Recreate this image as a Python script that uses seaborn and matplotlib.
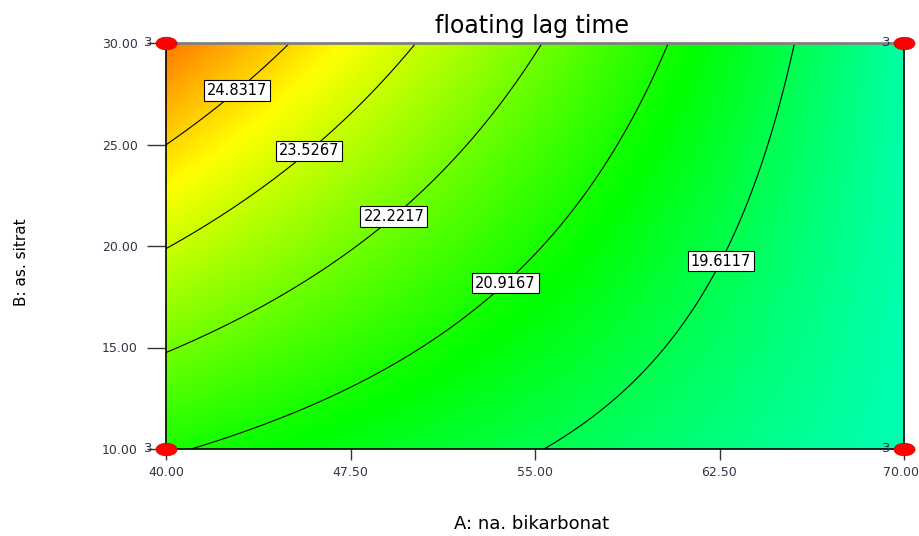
import numpy as np
import pandas as pd
import matplotlib
matplotlib.use("Agg")
import matplotlib.pyplot as plt
import seaborn as sns
from matplotlib.colors import LinearSegmentedColormap
from matplotlib.path import Path
from matplotlib.transforms import Affine2D, ScaledTranslation

# factor ranges
a_range = [40.0, 70.0]
b_range = [10.0, 30.0]
x_ticks = [40.0, 47.5, 55.0, 62.5, 70.0]
y_ticks = [10.0, 15.0, 20.0, 25.0, 30.0]

# 2FI model in coded factors
coef_intercept = 20.97
coef_a = -2.59
coef_b = 1.325
coef_ab = -1.225

# contour levels and where their labels sit
levels = [19.6117, 20.9167, 22.2217, 23.5267, 24.8317]
label_pos = [(62.48, 19.31), (53.66, 18.37), (49.11, 21.67), (45.65, 24.93), (42.89, 27.68)]

# design points (corners, 3 replicates each)
design_a = [40, 40, 70, 70]
design_b = [10, 30, 10, 30]
design_n = [3, 3, 3, 3]

# colour scale anchors (response value -> colour)
scale_vals = [14.0, 17.3, 20.6, 24.3, 27.8]
scale_cols = ["#0000ff", "#00ffff", "#00ff00", "#ffff00", "#ff0000"]

sns.set_style("white")
plt.rcParams['font.family'] = ['DejaVu Sans']

fig = plt.figure(figsize=(9.2, 5.36), dpi=100)
ax = fig.add_axes([166/920, 1 - 449/536, 738/920, 406/536])

A, B = np.meshgrid(np.linspace(a_range[0], a_range[1], 301),
                   np.linspace(b_range[0], b_range[1], 201))
ca = (A - 55) / 15
cb = (B - 20) / 10
Z = coef_intercept + coef_a * ca + coef_b * cb + coef_ab * ca * cb

vmin, vmax = scale_vals[0], scale_vals[-1]
cmap = LinearSegmentedColormap.from_list(
    "dx", [((v - vmin) / (vmax - vmin), c) for v, c in zip(scale_vals, scale_cols)])
ax.imshow(Z, extent=[a_range[0], a_range[1], b_range[0], b_range[1]],
          origin='lower', aspect='auto', cmap=cmap, vmin=vmin, vmax=vmax,
          interpolation='bilinear', zorder=0)

cs = ax.contour(A, B, Z, levels=levels, colors='black', linewidths=0.8, zorder=2)
# labels sit on top of the lines in white boxes (no gap cut)
texts = ax.clabel(cs, levels, fmt='%.4f', manual=label_pos, inline=False,
                  fontsize=10.5, colors='black')
for t in texts:
    t.set_rotation(0)
    t.set_bbox(dict(boxstyle='square,pad=0.2', fc='white', ec='black', lw=0.8))
    t.set_zorder(4)

# design points as red ellipses
ellipse = Path.unit_circle().transformed(Affine2D().scale(1.0, 0.6))
pts = pd.DataFrame({'A': design_a, 'B': design_b})
sns.scatterplot(data=pts, x='A', y='B', marker=ellipse, s=230, color='#ff0000',
                edgecolor='#cc0000', linewidth=0.5, ax=ax, zorder=5, clip_on=False)
for xa, yb, n in zip(design_a, design_b, design_n):
    ax.annotate(str(n), (xa, yb), xytext=(-13, 0), textcoords='offset points',
                ha='center', va='center', fontsize=9.5, color='#333344',
                zorder=6, annotation_clip=False)

ax.set_xlim(a_range)
ax.set_ylim(b_range)
ax.set_xticks(x_ticks)
ax.set_yticks(y_ticks)
ax.set_xticklabels([f"{v:.2f}" for v in x_ticks])
ax.set_yticklabels([f"{v:.2f}" for v in y_ticks])
ax.tick_params(axis='x', direction='out', length=8, width=1, pad=4,
               labelsize=9, labelcolor='#33334a', color='#333333', bottom=True)
ax.tick_params(axis='y', direction='out', length=14, width=1, pad=6.5,
               labelsize=9, labelcolor='#33334a', color='#333333', left=True)
ax.set_xlabel("")
ax.set_ylabel("")

# nudge the last x label so it stays inside the figure
last = ax.get_xticklabels()[-1]
last.set_transform(last.get_transform() + ScaledTranslation(-3/100, 0, fig.dpi_scale_trans))

for side in ['left', 'bottom', 'right']:
    ax.spines[side].set_color('black')
    ax.spines[side].set_linewidth(1.2)
ax.spines['top'].set_color('#808080')
ax.spines['top'].set_linewidth(2)

fig.text(532/920, 1 - 26/536, "floating lag time", ha='center', va='center',
         fontsize=17, color='black')
fig.text(532/920, 1 - 524/536, "A: na. bikarbonat", ha='center', va='center',
         fontsize=13, color='black')
fig.text(22/920, 1 - 262/536, "B: as. sitrat", ha='center', va='center', fontsize=11,
         rotation=90, color='black')

fig.savefig("out.png", dpi=100)
